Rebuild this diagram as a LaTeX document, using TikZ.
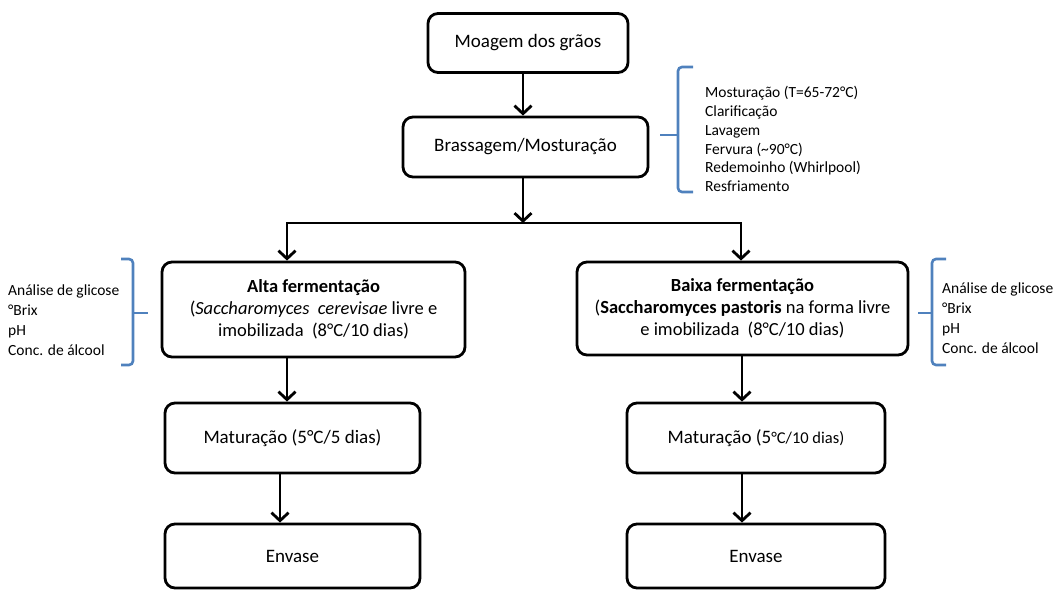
\documentclass[tikz,border=0pt]{standalone}
\usepackage{fontspec}
\setmainfont{Carlito}
\usetikzlibrary{arrows.meta}
\definecolor{azulchave}{RGB}{79,129,189}
\begin{document}
\begin{tikzpicture}[x=1pt,y=-1pt,
        etapa/.style={draw,line width=2.8pt,rounded corners=10pt,align=center,inner sep=0pt,font=\fontsize{19}{22}\selectfont},
        lista/.style={align=left,inner sep=0pt,anchor=west},
        seta/.style={line width=2.8pt,-{Straight Barb[length=8pt,width=17pt]}},
        dupla/.style={line width=2.8pt,{Straight Barb[length=8pt,width=17pt]}-{Straight Barb[length=8pt,width=17pt]}},
        chave/.style={azulchave,line width=2.6pt,rounded corners=4pt}]
        \useasboundingbox (0,0) rectangle (1057,590);
        % etapas
        \node[etapa,minimum width=200,minimum height=59] (moagem) at (528,43) {Moagem dos grãos};
        \node[etapa,minimum width=245,minimum height=60] (brassagem) at (525.5,147) {Brassagem/Mosturação};
        \node[etapa,minimum width=303,minimum height=95,font=\fontsize{18.5}{22}\selectfont] (alta) at (313.5,309.5)
            {\textbf{Alta fermentação}\\(\textit{Saccharomyces}\ \ \textit{cerevisae} livre e\\imobilizada\ \ (8°C/10 dias)};
        \node[etapa,minimum width=331,minimum height=93,font=\fontsize{18.5}{22}\selectfont] (baixa) at (742.5,308.5)
            {\textbf{Baixa fermentação}\\(\textbf{Saccharomyces pastoris} na forma\ livre\\e imobilizada\ \ (8°C/10 dias)};
        \node[etapa,minimum width=255,minimum height=70] (matA) at (292.5,438) {Maturação (5°C/5 dias)};
        \node[etapa,minimum width=258,minimum height=70] (matB) at (756,438)
            {Maturação (5{\fontsize{16.5}{20}\selectfont°C/10 dias)}};
        \node[etapa,minimum width=255,minimum height=64] (envA) at (292.5,556) {Envase};
        \node[etapa,minimum width=258,minimum height=64] (envB) at (756,556) {Envase};
        % setas
        \coordinate (eixo) at (523,0);
        \coordinate (jA) at (287,223);
        \coordinate (jB) at (741,223);
        \coordinate (colA) at (280,0);
        \coordinate (colB) at (742,0);
        \draw[seta] (moagem.south -| eixo) -- (brassagem.north -| eixo);
        \draw[seta] (brassagem.south -| eixo) -- (eixo |- jA);
        \draw[dupla] (alta.north -| jA) -- (jA) -- (jB) -- (baixa.north -| jB);
        \draw[seta] (alta.south -| jA) -- (matA.north -| jA);
        \draw[seta] (matA.south -| colA) -- (envA.north -| colA);
        \draw[seta] (baixa.south -| colB) -- (matB.north -| colB);
        \draw[seta] (matB.south -| colB) -- (envB.north -| colB);
        % chaves
        \draw[chave] (693,67) -- (678,67) -- (678,192) -- (693,192);
        \draw[chave] (678,135) -- (660,135);
        \draw[chave] (121,259) -- (133,259) -- (133,365) -- (121,365);
        \draw[chave] (133,313) -- (148,313);
        \draw[chave] (946,259) -- (932,259) -- (932,365) -- (946,365);
        \draw[chave] (932,313) -- (918,313);
        % listas
        \node[lista,font=\fontsize{15.5}{18.8}\selectfont] (brassLista) at (705,139)
            {Mosturação (T=65-72°C)\\Clarificação\\Lavagem\\Fervura (\textasciitilde90°C)\\Redemoinho (Whirlpool)\\Resfriamento};
        \node[lista,font=\fontsize{15.5}{20}\selectfont] (altaLista) at (8,320)
            {Análise de glicose\\°Brix\\pH\\Conc. de álcool};
        \node[lista,font=\fontsize{15.5}{20}\selectfont] (baixaLista) at (942,318)
            {Análise de glicose\\°Brix\\pH\\Conc. de álcool};
\end{tikzpicture}
\end{document}
